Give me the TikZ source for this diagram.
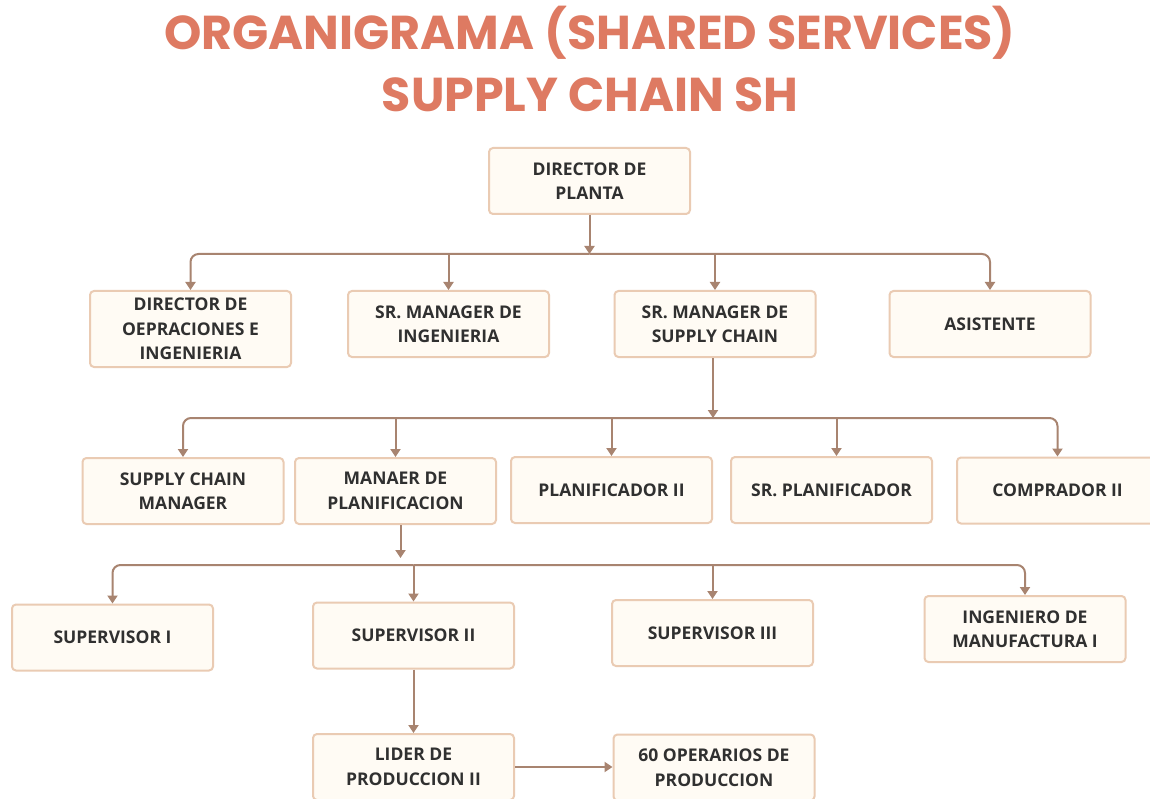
\documentclass[tikz,border=0pt]{standalone}
\usepackage{fontspec}
\setmainfont{Open Sans}
\newfontfamily\titlefont{Poppins}
\usetikzlibrary{arrows.meta}
\definecolor{titlec}{HTML}{DE7A62}
\definecolor{boxfill}{HTML}{FFFBF4}
\definecolor{boxline}{HTML}{EACBB3}
\definecolor{arrc}{HTML}{A88470}
\definecolor{txt}{HTML}{303030}
\begin{document}
\begin{tikzpicture}[x=1pt,y=-1pt,
  card/.style={draw=boxline, line width=2pt, fill=boxfill, rounded corners=4pt,
    minimum width=201pt, minimum height=66pt, align=center,
    font=\fontsize{17.5}{24.5}\selectfont\bfseries, text=txt, inner sep=0pt},
  tall/.style={minimum height=76pt},
  link/.style={draw=arrc, line width=2pt, -{Triangle[length=8pt,width=10pt]}, rounded corners=8pt},
  title/.style={font=\titlefont\bfseries\fontsize{47.5}{52}\selectfont, text=titlec}]
\useasboundingbox (0,0) rectangle (1150,799);
\fill[white] (0,0) rectangle (1150,799);

% titles
\node[title] (t1) at (590,33) {ORGANIGRAMA (SHARED SERVICES)};
\node[title] (t2) at (590,95) {SUPPLY CHAIN SH};

% level 0
\node[card] (dp) at (589.5,181) {DIRECTOR DE\\PLANTA};
% level 1
\node[card,tall] (doi) at (190.5,329) {DIRECTOR DE\\OEPRACIONES E\\INGENIERIA};
\node[card] (smi) at (448.5,324) {SR. MANAGER DE\\INGENIERIA};
\node[card] (smsc) at (715,324) {SR. MANAGER DE\\SUPPLY CHAIN};
\node[card] (asis) at (990,324) {ASISTENTE};
% level 2
\node[card] (scm) at (183,491) {SUPPLY CHAIN\\MANAGER};
\node[card] (mp) at (395.5,491) {MANAER DE\\PLANIFICACION};
\node[card] (p2) at (611.5,490) {PLANIFICADOR II};
\node[card] (sp) at (831.5,490) {SR. PLANIFICADOR};
\node[card] (c2) at (1057.5,490.5) {COMPRADOR II};
% level 3
\node[card] (s1) at (112.5,637.5) {SUPERVISOR I};
\node[card] (s2) at (413.5,635.5) {SUPERVISOR II};
\node[card] (s3) at (712.5,633) {SUPERVISOR III};
\node[card] (im) at (1025,629) {INGENIERO DE\\MANUFACTURA I};
% level 4
\node[card] (lp) at (413.5,767) {LIDER DE\\PRODUCCION II};
\node[card] (op) at (714,767.5) {60 OPERARIOS DE\\PRODUCCION};

% bus 1
\coordinate (b1) at (589.5,254);
\draw[link] (dp.south) -- (b1);
\draw[link] (b1) -| (doi.north);
\draw[link] (b1) -| (asis.north);
\draw[link] (b1 -| smi.north) -- (smi.north);
\draw[link] (b1 -| smsc.north) -- (smsc.north);

% bus 2
\coordinate (b2) at (713,418);
\draw[link] (smsc.south -| b2) -- (b2);
\draw[link] (b2) -| (scm.north);
\draw[link] (b2) -| (c2.north);
\draw[link] (b2 -| mp.north) -- (mp.north);
\draw[link] (b2 -| p2.north) -- (p2.north);
\coordinate (spt) at ([xshift=5pt]sp.north);
\draw[link] (b2 -| spt) -- (spt);

% bus 3
\coordinate (b3) at (413.5,565);
\coordinate (mpo) at ([xshift=5pt]mp.south);
\coordinate (mpe) at (400.5,558);
\draw[link] (mpo) -- (mpe);
\draw[link] (b3) -| (s1.north);
\draw[link] (b3) -| (im.north);
\draw[link] (b3) -- (s2.north);
\draw[link] (b3 -| s3.north) -- (s3.north);

% level 4 links
\draw[link] (s2.south) -- (lp.north);
\draw[link] (lp.east) -- (lp.east -| op.west);
\end{tikzpicture}
\end{document}
